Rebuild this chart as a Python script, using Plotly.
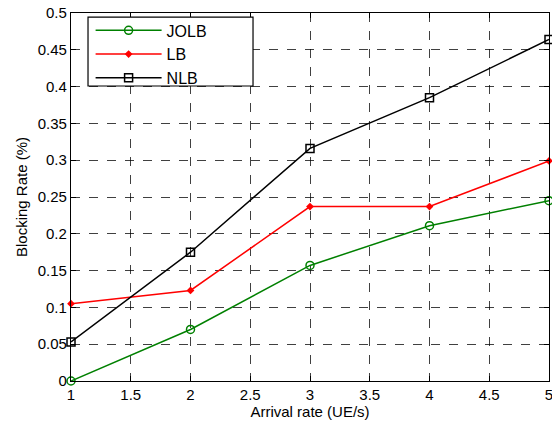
import plotly.graph_objects as go

arrival = [1, 2, 3, 4, 5]
jolb = [0.0, 0.070, 0.157, 0.211, 0.245]
lb = [0.105, 0.123, 0.237, 0.237, 0.299]
nlb = [0.053, 0.175, 0.316, 0.385, 0.464]

xticks = [1, 1.5, 2, 2.5, 3, 3.5, 4, 4.5, 5]
yticks = [0, 0.05, 0.1, 0.15, 0.2, 0.25, 0.3, 0.35, 0.4, 0.45, 0.5]
ytick_text = ["0", "0.05", "0.1", "0.15", "0.2", "0.25", "0.3", "0.35", "0.4", "0.45", "0.5"]

fig = go.Figure()
fig.add_trace(go.Scatter(x=arrival, y=jolb, name="JOLB", mode="lines+markers", cliponaxis=False,
                         line=dict(color="#008000", width=1.5),
                         marker=dict(symbol="circle-open", size=8, color="#008000", line=dict(width=1.5))))
fig.add_trace(go.Scatter(x=arrival, y=lb, name="LB", mode="lines+markers", cliponaxis=False,
                         line=dict(color="#ff0000", width=1.5),
                         marker=dict(symbol="diamond", size=6, color="#ff0000")))
fig.add_trace(go.Scatter(x=arrival, y=nlb, name="NLB", mode="lines+markers", cliponaxis=False,
                         line=dict(color="#000000", width=1.5),
                         marker=dict(symbol="square-open", size=8, color="#000000", line=dict(width=1.5))))

axis_common = dict(showline=True, linecolor="black", linewidth=1.2, mirror="allticks",
                   ticks="inside", ticklen=5, tickcolor="black", ticklabeloverflow="allow",
                   automargin=False,
                   showgrid=True, gridcolor="rgba(0,0,0,0.75)", griddash="dash", gridwidth=1,
                   zeroline=False, tickfont=dict(size=15, color="black"))

fig.update_xaxes(range=[1, 5], tickvals=xticks, ticktext=[str(v) for v in xticks],
                 title=dict(text="Arrival rate (UE/s)", font=dict(size=15, color="black"), standoff=4),
                 **axis_common)
fig.update_yaxes(range=[0, 0.5], tickvals=yticks, ticktext=ytick_text,
                 title=dict(text="Blocking Rate (%)", font=dict(size=15, color="black"), standoff=6),
                 **axis_common)

# legend frame (MATLAB-style box)
fig.add_shape(type="rect", xref="paper", yref="paper", x0=0.0356, x1=0.3808, y0=0.8016, y1=0.989,
              line=dict(color="black", width=1.2), fillcolor="white", layer="above")

fig.update_layout(
    width=552, height=425,
    margin=dict(l=71, r=3, t=13, b=44),
    paper_bgcolor="white", plot_bgcolor="white",
    font=dict(family="Liberation Sans, Arial, sans-serif", size=15, color="black"),
    showlegend=True,
    legend=dict(x=0.041, y=0.999, xanchor="left", yanchor="top",
                bgcolor="rgba(0,0,0,0)", borderwidth=0,
                font=dict(size=16), itemwidth=66, tracegroupgap=0),
)

fig.write_html("out.html", config={"displayModeBar": False})
with open("out.html", "r", encoding="utf-8") as f:
    html = f.read()
html = html.replace("<head>", "<head><style>body{margin:0;padding:0;overflow:hidden}</style>", 1)
with open("out.html", "w", encoding="utf-8") as f:
    f.write(html)
